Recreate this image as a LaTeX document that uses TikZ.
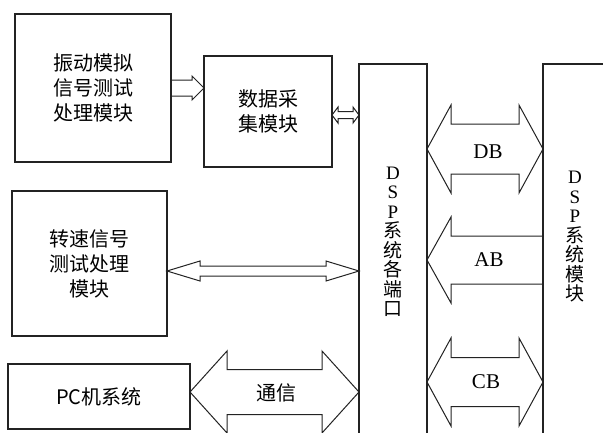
\documentclass[tikz,border=0pt]{standalone}
\usepackage{fontspec}
\setmainfont{Liberation Serif}
\newfontfamily\cjk{Noto Sans CJK SC}
\usetikzlibrary{calc}
\definecolor{ink}{RGB}{35,35,35}

% hollow bus arrows: ends, half shaft, half head, head length
\newcommand{\fatdbl}[5]{%
  \coordinate (hl) at ($(#1)!#5!(#2)$);
  \coordinate (hr) at ($(#2)!#5!(#1)$);
  \draw[busline] (#1) -- ($(hl)+(0,#4)$) -- ($(hl)+(0,#3)$) -- ($(hr)+(0,#3)$)
    -- ($(hr)+(0,#4)$) -- (#2) -- ($(hr)-(0,#4)$) -- ($(hr)-(0,#3)$)
    -- ($(hl)-(0,#3)$) -- ($(hl)-(0,#4)$) -- cycle;}
\newcommand{\fatone}[5]{%
  \coordinate (hb) at ($(#2)!#5!(#1)$);
  \draw[busline] ($(#1)+(0,#3)$) -- ($(hb)+(0,#3)$) -- ($(hb)+(0,#4)$) -- (#2)
    -- ($(hb)-(0,#4)$) -- ($(hb)-(0,#3)$) -- ($(#1)-(0,#3)$);}

\begin{document}
\begin{tikzpicture}[x=1pt,y=-1pt,font=\cjk\fontsize{20}{25}\selectfont,
  blk/.style={draw=ink,line width=1.1pt,align=center,inner sep=0pt,outer sep=0pt},
  busline/.style={draw=ink,line width=1pt,line join=miter},
  vtext/.style={align=center,inner sep=0pt,font=\cjk\fontsize{19}{19.5}\selectfont},
  buslbl/.style={inner sep=0pt,font=\rmfamily\fontsize{21}{21}\selectfont}]
\clip (0,0) rectangle (603,432);
\fill[white] (0,0) rectangle (603,432);

% boxes
\node[blk,minimum width=156pt,minimum height=148pt] (vib) at (93,88) {振动模拟\\信号测试\\处理模块};
\node[blk,minimum width=128pt,minimum height=111pt] (acq) at (268,111.5) {数据采\\集模块};
\node[blk,minimum width=155pt,minimum height=145pt] (spd) at (89.5,263.5) {转速信号\\测试处理\\模块};
\node[blk,minimum width=182pt,minimum height=65pt] (pc) at (99,396.5) {PC机系统};
\node[blk,minimum width=68pt,minimum height=388pt] (ports) at (393,258) {};
\node[blk,minimum width=117pt,minimum height=388pt] (dsp) at (601.5,258) {};
\node[vtext] (portsLbl) at (393,242) {{\rmfamily D}\\{\rmfamily S}\\{\rmfamily P}\\系\\统\\各\\端\\口};
\node[vtext] (dspLbl) at (575,237) {{\rmfamily D}\\{\rmfamily S}\\{\rmfamily P}\\系\\统\\模\\块};

% arrow ends
\coordinate (vibR) at (vib.east);
\coordinate (acqL) at (acq.west |- vib.east);
\coordinate (acqR) at (acq.east |- 0,115);
\coordinate (portsA) at (ports.west |- 0,115);
\coordinate (spdR) at (spd.east |- 0,271);
\coordinate (portsB) at (ports.west |- 0,271);
\coordinate (pcR) at (pc.east |- 0,392);
\coordinate (portsC) at (ports.west |- 0,392);
\coordinate (dbL) at (ports.east |- 0,149);
\coordinate (dbR) at (dsp.west |- 0,149);
\coordinate (abL) at (ports.east |- 0,260);
\coordinate (abR) at (dsp.west |- 0,260);
\coordinate (cbL) at (ports.east |- 0,382);
\coordinate (cbR) at (dsp.west |- 0,382);

\fatone{vibR}{acqL}{8}{12}{12pt}
\fatdbl{acqR}{portsA}{3.5}{8}{6pt}
\fatdbl{spdR}{portsB}{5}{10}{33pt}
\fatdbl{pcR}{portsC}{22.5}{41}{37pt}
\fatdbl{dbL}{dbR}{25}{44}{24pt}
\fatone{abR}{abL}{24}{43}{24pt}
\fatdbl{cbL}{cbR}{24.5}{44}{24pt}

% bus labels
\node (comLbl) at (276,393) {通信};
\node[buslbl] (dbLbl) at (488,152) {DB};
\node[buslbl] (abLbl) at (489,260) {AB};
\node[buslbl] (cbLbl) at (486,382) {CB};
\end{tikzpicture}
\end{document}
